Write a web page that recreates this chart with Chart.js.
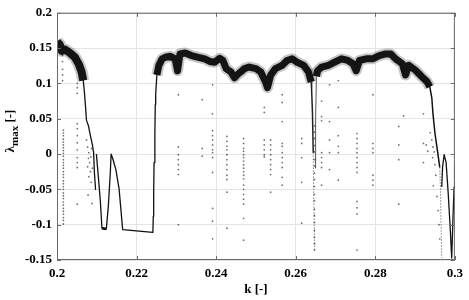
<!DOCTYPE html>
<html>
<head>
<meta charset="utf-8">
<script src="https://cdn.jsdelivr.net/npm/chart.js@4.4.0/dist/chart.umd.min.js"></script>
<style>
  html, body { margin: 0; padding: 0; background: #fff; }
  #wrap { width: 469px; height: 300px; }
</style>
</head>
<body>
<div id="wrap"><canvas id="myChart" width="469" height="300"></canvas></div>
<script>
// tick labels
const kTicks = [0.2, 0.22, 0.24, 0.26, 0.28, 0.3];
const lamTicks = [-0.15, -0.1, -0.05, 0, 0.05, 0.1, 0.15, 0.2];

// dense chaotic band (k, lambda_max)
const bandAK = [0.2000, 0.2007, 0.2012, 0.2020, 0.2032, 0.2045, 0.2055, 0.2062, 0.2066];
const bandAL = [0.159, 0.155, 0.146, 0.148, 0.1435, 0.137, 0.127, 0.116, 0.104];

const bandBK = [0.2251, 0.2256, 0.2264, 0.2272, 0.2285, 0.2297, 0.2303, 0.2309, 0.2322, 0.2338, 0.2355, 0.2371, 0.2384, 0.2396, 0.2409, 0.2417, 0.2425, 0.2437, 0.2446, 0.2454, 0.2462, 0.2471, 0.2483, 0.2500, 0.2512, 0.2524, 0.2529, 0.2537, 0.2549, 0.2566, 0.2578, 0.2591, 0.2603, 0.2620, 0.2632, 0.2639];
const bandBL = [0.112, 0.1256, 0.1348, 0.137, 0.1384, 0.1348, 0.118, 0.1417, 0.1431, 0.1394, 0.137, 0.1348, 0.1311, 0.130, 0.1356, 0.1325, 0.121, 0.1164, 0.108, 0.1128, 0.1164, 0.121, 0.1232, 0.121, 0.1164, 0.1026, 0.094, 0.1118, 0.121, 0.1256, 0.1325, 0.1348, 0.1301, 0.1256, 0.1164, 0.102];

const bandCK = [0.2652, 0.2655, 0.2665, 0.2682, 0.2698, 0.2715, 0.2731, 0.2744, 0.2752, 0.2760, 0.2777, 0.2793, 0.2810, 0.2826, 0.2839, 0.2851, 0.2868, 0.2876, 0.2884, 0.2901, 0.2917, 0.2930, 0.2937];
const bandCL = [0.110, 0.1180, 0.1232, 0.1256, 0.1301, 0.1348, 0.1325, 0.1279, 0.118, 0.1325, 0.1348, 0.1348, 0.1394, 0.1417, 0.1417, 0.1348, 0.1279, 0.112, 0.1256, 0.1187, 0.1095, 0.1026, 0.095];

// thin periodic branches
const thin1K = [0.2062, 0.2066, 0.2069, 0.2072, 0.2074, 0.2079, 0.2084, 0.2089, 0.2092, 0.2094, 0.2097];
const thin1L = [0.116, 0.104, 0.087, 0.065, 0.048, 0.040, 0.026, 0.013, 0.002, -0.026, -0.051];

const thin2K = [0.2099, 0.2104, 0.2109, 0.2113, 0.2124, 0.2129, 0.2134, 0.2136, 0.2141, 0.2148, 0.2156, 0.2161, 0.2165, 0.2241, 0.2242, 0.2243, 0.2244, 0.2246, 0.2247, 0.2248, 0.2251];
const thin2L = [0.000, -0.033, -0.067, -0.105, -0.106, -0.074, -0.026, 0.000, -0.008, -0.022, -0.049, -0.081, -0.107, -0.111, -0.088, -0.054, -0.012, 0.029, 0.070, 0.084, 0.112];

const flatK = [0.2113, 0.2124];
const flatL = [-0.105, -0.106];

const dropK = [0.2639, 0.2640, 0.2642, 0.2644];
const dropL = [0.102, 0.090, 0.060, 0.002];

const dropDotK = [0.2644, 0.2645, 0.2648];
const dropDotL = [0.002, -0.053, -0.136];

const riseK = [0.2649, 0.2650, 0.2652];
const riseL = [-0.020, 0.050, 0.110];

const thin3K = [0.2930, 0.2937, 0.2942, 0.2945, 0.2950, 0.2957, 0.2962];
const thin3L = [0.1026, 0.095, 0.0797, 0.0567, 0.0291, 0.0016, -0.019];

const thin3bK = [0.2962, 0.2964, 0.2965, 0.2967];
const thin3bL = [-0.019, -0.0535, -0.095, -0.147];

const thin4K = [0.2967, 0.2969, 0.2973, 0.2978, 0.2983, 0.2988, 0.2992, 0.2995, 0.2998, 0.3000];
const thin4L = [-0.0467, -0.019, -0.0008, -0.0122, -0.0535, -0.1018, -0.147, -0.095, -0.0467, -0.015];

// scattered dots in vertical streaks
const streakK = [0.2014, 0.2016, 0.2051, 0.2305, 0.2365, 0.2391, 0.2427, 0.2469, 0.2521, 0.2537, 0.2566, 0.2615, 0.2647, 0.2665, 0.2685, 0.2707, 0.2754, 0.2794, 0.2859, 0.2921];
const streakL = [
  [0.140, 0.131, 0.120, 0.112, 0.104],
  [0.034, 0.030, 0.026, 0.021, 0.017, 0.013, 0.009, 0.005, 0.001, -0.003, -0.008, -0.012, -0.016, -0.020, -0.025, -0.029, -0.033, -0.038, -0.042, -0.046, -0.050, -0.055, -0.059, -0.063, -0.068, -0.072, -0.077, -0.081, -0.085, -0.090, -0.094, -0.099],
  [0.100, 0.094, 0.086, 0.043, 0.036, 0.026, 0.016, 0.006, -0.005, -0.012, -0.019, -0.071],
  [0.084, 0.010, -0.001, -0.008, -0.015, -0.022, -0.029, -0.100],
  [0.077, 0.008, -0.003],
  [0.098, 0.057, 0.033, 0.026, 0.020, 0.013, 0.006, 0.002, -0.005, -0.026, -0.077, -0.095, -0.120],
  [0.025, 0.018, 0.011, 0.006, -0.001, -0.008, -0.015, -0.022, -0.030, -0.036, -0.054, -0.105],
  [0.022, 0.015, 0.008, 0.004, -0.001, -0.005, -0.010, -0.015, -0.020, -0.025, -0.030, -0.035, -0.044, -0.050, -0.057, -0.064, -0.071, -0.091, -0.122],
  [0.066, 0.059, 0.020, 0.013, 0.006, -0.001, -0.004],
  [0.020, 0.013, 0.006, -0.001, -0.008, -0.015, -0.022, -0.029, -0.054],
  [0.084, 0.073, 0.046, 0.015, 0.011, 0.002, -0.005, -0.012, -0.019, -0.033, -0.044],
  [0.022, 0.015, -0.005, -0.040, -0.098],
  [0.040, 0.031, 0.022, 0.012, 0.003, -0.008, -0.017, -0.027, -0.036, -0.046, -0.057, -0.066, -0.078, -0.087, -0.097, -0.108, -0.118, -0.127, -0.136],
  [0.075, 0.053, 0.047, 0.002, -0.005, -0.012, -0.019, -0.044],
  [0.098, 0.046, 0.020, 0.002, -0.022],
  [0.104, 0.066, 0.026, 0.011, 0.002, -0.037],
  [0.029, 0.022, 0.015, 0.008, 0.002, -0.005, -0.012, -0.019, -0.026, -0.067, -0.076, -0.085, -0.136],
  [0.084, 0.015, 0.008, 0.002, -0.030, -0.037, -0.044],
  [0.039, 0.013, -0.008, -0.071],
  [0.057, 0.015, -0.012]
];

// loose dots
const cloudK = [0.2074, 0.2077, 0.2080, 0.2079, 0.2082, 0.2077, 0.2084, 0.2080, 0.2085, 0.2087, 0.2078, 0.2086, 0.2089, 0.2088, 0.2938, 0.2942, 0.2945, 0.2948, 0.2944, 0.2950, 0.2952, 0.2946, 0.2955, 0.2958, 0.2960, 0.2962, 0.2928, 0.2932, 0.2871];
const cloudL = [0.020, 0.010, 0.002, -0.006, -0.012, -0.018, -0.025, -0.032, -0.004, 0.008, -0.058, -0.040, -0.020, -0.070, 0.030, 0.020, 0.010, 0.003, -0.005, -0.015, -0.030, -0.045, -0.060, -0.080, -0.100, -0.120, 0.013, 0.004, 0.054];

const serif = "'Liberation Serif', 'Times New Roman', serif";

function pts(ks, ls) {
  return ks.map((k, i) => ({ x: k, y: ls[i] }));
}

const dots = [];
streakK.forEach((k, i) => streakL[i].forEach((l) => dots.push({ x: k, y: l })));
cloudK.forEach((k, i) => dots.push({ x: k, y: cloudL[i] }));

function lineSet(data, width, color, dash) {
  return {
    data,
    showLine: true,
    pointRadius: 0,
    borderColor: color,
    borderWidth: width,
    borderDash: dash || [],
    borderJoinStyle: "round",
    fill: false,
    tension: 0,
  };
}

// band = soft edge + solid core
function bandSets(data, outer, inner) {
  return [
    lineSet(data, outer, "rgba(0,0,0,0.22)"),
    lineSet(data, inner, "rgba(0,0,0,0.9)"),
  ];
}

// frame, inward ticks and the y title with subscript
const framePlugin = {
  id: "frame",
  afterDatasetsDraw(chart) {
    const { ctx, chartArea: a, scales } = chart;
    ctx.save();
    ctx.strokeStyle = "#6a6a6a";
    ctx.lineWidth = 1;
    ctx.strokeRect(a.left + 0.5, a.top + 0.5, a.right - a.left - 1, a.bottom - a.top - 1);
    ctx.beginPath();
    kTicks.forEach((v) => {
      const x = Math.round(scales.x.getPixelForValue(v)) + 0.5;
      ctx.moveTo(x, a.top);
      ctx.lineTo(x, a.top + 4);
      ctx.moveTo(x, a.bottom);
      ctx.lineTo(x, a.bottom - 4);
    });
    lamTicks.forEach((v) => {
      const y = Math.round(scales.y.getPixelForValue(v)) + 0.5;
      ctx.moveTo(a.left, y);
      ctx.lineTo(a.left + 4, y);
      ctx.moveTo(a.right, y);
      ctx.lineTo(a.right - 4, y);
    });
    ctx.stroke();
    ctx.restore();
  },
  afterDraw(chart) {
    const ctx = chart.ctx;
    const big = "bold 13px " + serif;
    const small = "bold 11px " + serif;
    ctx.save();
    ctx.translate(10, 131);
    ctx.rotate(-Math.PI / 2);
    ctx.fillStyle = "#000";
    ctx.textBaseline = "alphabetic";
    ctx.font = big;
    const w1 = ctx.measureText("λ").width;
    const w3 = ctx.measureText(" [-]").width;
    ctx.font = small;
    const w2 = ctx.measureText("max").width;
    let x = -(w1 + w2 + w3) / 2;
    ctx.font = big;
    ctx.fillText("λ", x, 4);
    x += w1;
    ctx.font = small;
    ctx.fillText("max", x, 8);
    x += w2;
    ctx.font = big;
    ctx.fillText(" [-]", x, 4);
    ctx.restore();
  },
};

const ctx = document.getElementById("myChart").getContext("2d");
const myChart = new Chart(ctx, {
  type: "scatter",
  data: {
    datasets: [
      {
        data: dots,
        pointRadius: 0.9,
        pointBorderWidth: 0,
        pointBackgroundColor: "rgba(0,0,0,0.55)",
      },
      lineSet(pts(thin1K, thin1L), 1.3, "#111"),
      lineSet(pts(thin2K, thin2L), 1.3, "#111"),
      lineSet(pts(flatK, flatL), 2.5, "#000"),
      lineSet(pts(dropK, dropL), 1.5, "#222"),
      lineSet(pts(dropDotK, dropDotL), 1, "#444", [1, 2]),
      lineSet(pts(riseK, riseL), 1, "#555"),
      lineSet(pts(thin3K, thin3L), 1.5, "#111"),
      lineSet(pts(thin3bK, thin3bL), 1, "#444", [1, 2]),
      lineSet(pts(thin4K, thin4L), 1.3, "#111"),
      ...bandSets(pts(bandAK, bandAL), 12, 8),
      ...bandSets(pts(bandBK, bandBL), 11, 7),
      ...bandSets(pts(bandCK, bandCL), 11, 7),
    ],
  },
  options: {
    responsive: false,
    animation: false,
    devicePixelRatio: 1,
    layout: { padding: { top: 6, right: 9, left: 0, bottom: 0 } },
    plugins: {
      legend: { display: false },
      tooltip: { enabled: false },
    },
    scales: {
      x: {
        type: "linear",
        min: 0.2,
        max: 0.3,
        afterBuildTicks: (scale) => {
          scale.ticks = kTicks.map((v) => ({ value: v }));
        },
        afterFit: (scale) => {
          scale.height = 40;
        },
        ticks: {
          padding: 6,
          color: "#000",
          font: { family: serif, size: 13, weight: "bold" },
          callback: (v) => String(v),
          maxRotation: 0,
        },
        grid: { color: "#e4e4e4", drawTicks: false },
        border: { display: false },
        title: {
          display: true,
          text: "k [-]",
          color: "#000",
          font: { family: serif, size: 13, weight: "bold" },
          padding: { top: 0, bottom: 3 },
        },
      },
      y: {
        type: "linear",
        min: -0.15,
        max: 0.2,
        afterBuildTicks: (scale) => {
          scale.ticks = lamTicks.map((v) => ({ value: v }));
        },
        afterFit: (scale) => {
          scale.width = 57;
        },
        ticks: {
          padding: 5,
          color: "#000",
          font: { family: serif, size: 13, weight: "bold" },
          callback: (v) => String(v),
        },
        grid: { color: "#e4e4e4", drawTicks: false },
        border: { display: false },
      },
    },
  },
  plugins: [framePlugin],
});
</script>
</body>
</html>
